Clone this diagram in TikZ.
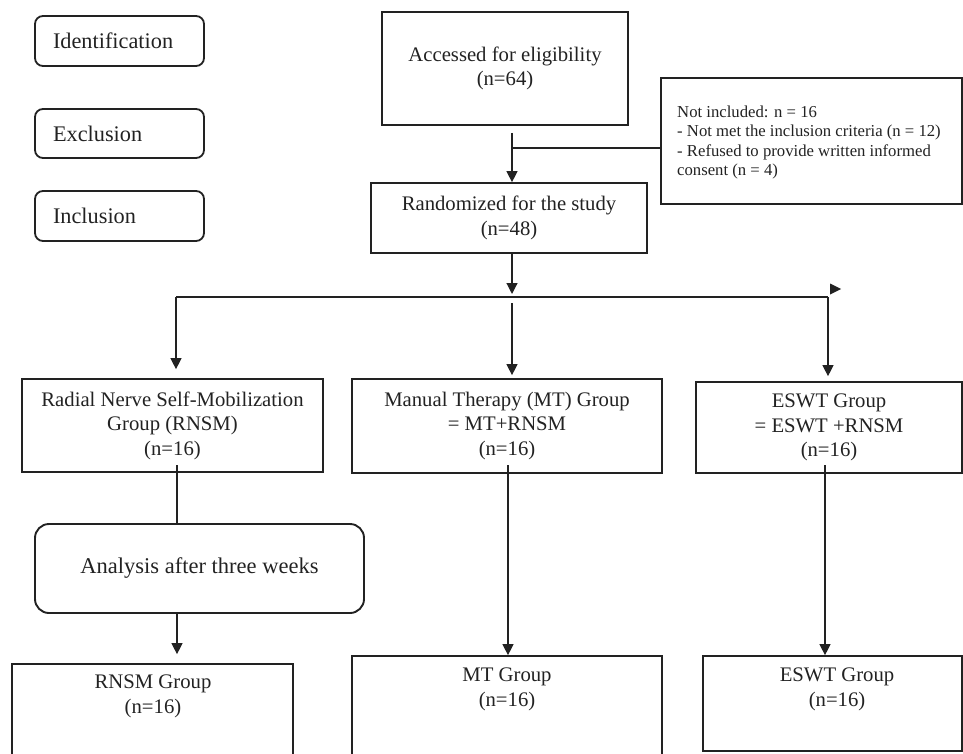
\documentclass[tikz,border=0pt]{standalone}
\usepackage{fontspec}
\setmainfont{Liberation Serif}
\usetikzlibrary{arrows.meta,calc}
\definecolor{ink}{HTML}{222222}
\tikzset{
  box/.style={draw=ink, line width=1.7pt, rectangle, inner sep=0pt, align=center,
              text=ink, font=\fontsize{20.7}{24.5}\selectfont},
  phase/.style={draw=ink, line width=1.8pt, rounded corners=8pt, inner ysep=0pt,
              inner xsep=18pt, text width=133pt, align=left, text=ink,
              minimum width=169pt, font=\fontsize{22.3}{26}\selectfont},
  txt/.style={inner sep=0pt, align=center, text=ink, font=\fontsize{20.7}{24.5}\selectfont},
  con/.style={draw=ink, line width=1.2pt},
  arr/.style={con, -{Triangle[width=11pt,length=11pt]}},
}
\begin{document}
\begin{tikzpicture}[x=1pt,y=-1pt]
\useasboundingbox (0,0) rectangle (963,754);

% phase labels
\node[phase, minimum height=50pt] (ident) at (119.5,41) {Identification};
\node[phase, minimum height=49pt] (exclu) at (119.5,133.5) {Exclusion};
\node[phase, minimum height=50pt] (inclu) at (119.5,216) {Inclusion};

% top boxes
\node[box, minimum width=246pt, minimum height=113pt] (acc) at (505,68.5)
  {Accessed for eligibility\\(n=64)};
\node[box, minimum width=301pt, minimum height=126pt] (excl) at (811.5,141) {};
\node[txt, anchor=west, align=left, font=\fontsize{16.7}{19.5}\selectfont] (exclt) at (677,142.5)
  {Not included: n = 16\\- Not met the inclusion criteria (n = 12)\\- Refused to provide written informed\\consent (n = 4)};
\node[box, minimum width=276pt, minimum height=70pt] (rnd) at (509,218)
  {Randomized for the study\\(n=48)};

% group boxes
\node[box, minimum width=301pt, minimum height=93pt] (rnsm) at (172.5,425.5)
  {Radial Nerve Self-Mobilization\\Group (RNSM)\\(n=16)};
\node[box, minimum width=310pt, minimum height=94pt] (mt) at (507,426)
  {Manual Therapy (MT) Group\\= MT+RNSM\\(n=16)};
\node[box, minimum width=266pt, minimum height=91pt] (eswt) at (829,427.5)
  {ESWT Group\\= ESWT +RNSM\\(n=16)};

% analysis
\node[box, line width=1.9pt, rounded corners=14pt, minimum width=329pt, minimum height=89pt,
      font=\fontsize{22.5}{26}\selectfont] (ana) at (199.5,568.5) {Analysis after three weeks};

% bottom boxes
\node[box, minimum width=281pt, minimum height=106pt] (rnsmB) at (152.5,717) {};
\node[txt] (rnsmBt) at (153,696.5) {RNSM Group\\(n=16)};
\node[box, minimum width=310pt, minimum height=114pt] (mtB) at (507,713) {};
\node[txt] (mtBt) at (507,689.5) {MT Group\\(n=16)};
\node[box, minimum width=259pt, minimum height=95pt] (eswtB) at (832.5,703.5) {};
\node[txt] (eswtBt) at (837,689.5) {ESWT Group\\(n=16)};

% connectors
\coordinate (spine) at (512,148);
\draw[con] (spine) -- (spine -| excl.west);
\draw[arr] ($(acc.south -| spine)+(0,7)$) -- (rnd.north -| spine);

\coordinate (hub) at (512,297);
\coordinate (hl) at (176,297);
\coordinate (hr) at (828,297);
\draw[arr] (rnd.south -| hub) -- ($(hub)+(0,-3)$);
\draw[con] (hl) -- (hr);
\draw[arr, shorten >=9pt] (hl) -- (hl |- rnsm.north);
\draw[arr, shorten >=3pt] ($(hub)+(0,6)$) -- (hub |- mt.north);
\draw[arr, shorten >=5pt] (hr) -- (hr |- eswt.north);
\fill[ink] (830,283.5) -- (841,289) -- (830,294.5) -- cycle;

\coordinate (k1) at (177,465);
\coordinate (k2) at (508,465);
\coordinate (k3) at (825,465);
\draw[con] (k1) -- (k1 |- ana.north);
\draw[arr, shorten >=9pt] (k1 |- ana.south) -- (k1 |- rnsmB.north);
\draw[arr] (k2) -- (k2 |- mtB.north);
\draw[arr] (k3) -- (k3 |- eswtB.north);
\end{tikzpicture}
\end{document}
